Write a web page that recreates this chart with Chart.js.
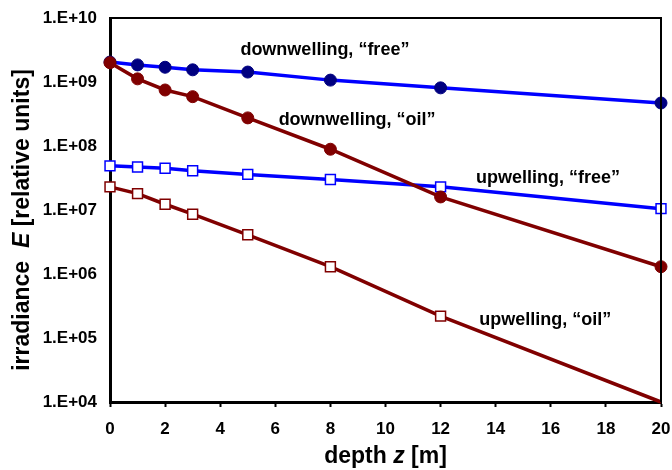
<!DOCTYPE html>
<html>
<head>
<meta charset="utf-8">
<script src="https://cdn.jsdelivr.net/npm/chart.js@4/dist/chart.umd.min.js"></script>
<style>
  html, body { margin: 0; padding: 0; background: #fff; }
  #wrap { width: 672px; height: 470px; }
</style>
</head>
<body>
<div id="wrap"><canvas id="irradiance-chart"></canvas></div>
<script>
const depths = [0, 1, 2, 3, 5, 8, 12, 20];
const downFree = [2.05e9, 1.85e9, 1.7e9, 1.55e9, 1.43e9, 1.07e9, 8.1e8, 4.7e8];
const downOil = [2.0e9, 1.12e9, 7.5e8, 5.9e8, 2.75e8, 8.9e7, 1.6e7, 1.3e6];
const upFree = [4.9e7, 4.7e7, 4.5e7, 4.1e7, 3.6e7, 3.0e7, 2.3e7, 1.05e7];
const upOil = [2.3e7, 1.8e7, 1.23e7, 8.6e6, 4.1e6, 1.3e6, 2.2e5, 1.0e4];
const yTicks = [1e4, 1e5, 1e6, 1e7, 1e8, 1e9, 1e10];

const FONT = '"Liberation Sans", Arial, sans-serif';
const BLUE = '#0000ff';
const NAVY = '#000080';
const RED = '#800000';

function pts(ys) {
  return depths.map((x, i) => ({ x: x, y: ys[i] }));
}

// text labels next to the curves, in data coordinates
const notes = [
  { text: 'downwelling, \u201cfree\u201d', x: 7.8, y: Math.pow(10, 9.5) },
  { text: 'downwelling, \u201coil\u201d', x: 8.97, y: Math.pow(10, 8.41) },
  { text: 'upwelling, \u201cfree\u201d', x: 15.9, y: Math.pow(10, 7.5) },
  { text: 'upwelling, \u201coil\u201d', x: 15.8, y: Math.pow(10, 5.28) },
];

const decorPlugin = {
  id: 'decor',
  afterDraw(chart) {
    const { ctx, chartArea: a, scales } = chart;
    ctx.save();
    // top and right frame
    ctx.strokeStyle = '#000';
    ctx.lineWidth = 2;
    ctx.beginPath();
    ctx.moveTo(a.left, a.top);
    ctx.lineTo(a.right, a.top);
    ctx.lineTo(a.right, a.bottom);
    ctx.stroke();

    // curve labels
    ctx.fillStyle = '#000';
    ctx.font = 'bold 18px ' + FONT;
    ctx.textAlign = 'center';
    ctx.textBaseline = 'middle';
    notes.forEach(n => {
      ctx.fillText(n.text, scales.x.getPixelForValue(n.x), scales.y.getPixelForValue(n.y));
    });

    // axis titles with italic symbols
    function mixed(parts, cx, cy, rot) {
      ctx.save();
      ctx.translate(cx, cy);
      ctx.rotate(rot);
      ctx.textAlign = 'left';
      ctx.textBaseline = 'middle';
      let total = 0;
      parts.forEach(p => { ctx.font = p[1] + ' 23px ' + FONT; total += ctx.measureText(p[0]).width; });
      let x = -total / 2;
      parts.forEach(p => {
        ctx.font = p[1] + ' 23px ' + FONT;
        ctx.fillText(p[0], x, 0);
        x += ctx.measureText(p[0]).width;
      });
      ctx.restore();
    }
    mixed([['depth ', 'bold'], ['z', 'italic bold'], [' [m]', 'bold']],
      (a.left + a.right) / 2, 457, 0);
    mixed([['irradiance  ', 'bold'], ['E', 'italic bold'], [' [relative units]', 'bold']],
      23, 220, -Math.PI / 2);
    ctx.restore();
  }
};

const config = {
  type: 'line',
  data: {
    datasets: [
      {
        label: 'upwelling, "oil"',
        data: pts(upOil),
        borderColor: RED,
        backgroundColor: '#fff',
        borderWidth: 3.5,
        pointStyle: 'rect',
        pointRadius: [7, 7, 7, 7, 7, 7, 7, 0],
        pointBorderWidth: 1.5,
        pointBorderColor: RED,
        pointBackgroundColor: '#fff',
      },
      {
        label: 'downwelling, "oil"',
        data: pts(downOil),
        borderColor: RED,
        backgroundColor: RED,
        borderWidth: 3.5,
        pointRadius: 6,
        pointBackgroundColor: RED,
        pointBorderColor: RED,
        pointBorderWidth: 1,
      },
      {
        label: 'upwelling, "free"',
        data: pts(upFree),
        borderColor: BLUE,
        backgroundColor: '#fff',
        borderWidth: 3.5,
        pointStyle: 'rect',
        pointRadius: 7,
        pointBorderWidth: 1.5,
        pointBorderColor: BLUE,
        pointBackgroundColor: '#fff',
      },
      {
        label: 'downwelling, "free"',
        data: pts(downFree),
        borderColor: BLUE,
        backgroundColor: NAVY,
        borderWidth: 3.5,
        pointRadius: 6,
        pointBackgroundColor: NAVY,
        pointBorderColor: NAVY,
        pointBorderWidth: 1,
      },
    ],
  },
  options: {
    responsive: true,
    maintainAspectRatio: false,
    animation: false,
    clip: false,
    layout: { padding: { top: 18, right: 11, left: 0, bottom: 0 } },
    plugins: {
      legend: { display: false },
      tooltip: { enabled: false },
    },
    scales: {
      x: {
        type: 'linear',
        min: 0,
        max: 20,
        afterFit(s) { s.height = 68; s.paddingLeft = 0; s.paddingRight = 0; },
        ticks: {
          stepSize: 2,
          color: '#000',
          padding: 12,
          font: { family: FONT, size: 17, weight: 'bold' },
        },
        grid: { drawOnChartArea: false, tickLength: 5, tickWidth: 2, color: '#000' },
        border: { color: '#000', width: 3 },
      },
      y: {
        type: 'logarithmic',
        min: 1e4,
        max: 1e10,
        afterFit(s) { s.width = 110; s.paddingTop = 0; s.paddingBottom = 0; },
        afterBuildTicks(s) { s.ticks = yTicks.map(v => ({ value: v })); },
        ticks: {
          color: '#000',
          padding: 13,
          font: { family: FONT, size: 17, weight: 'bold' },
          callback(v) {
            const e = Math.round(Math.log10(v));
            return '1.E+' + (e < 10 ? '0' + e : e);
          },
        },
        grid: { drawOnChartArea: false, drawTicks: false, color: '#000' },
        border: { color: '#000', width: 3 },
      },
    },
  },
  plugins: [decorPlugin],
};

let chart = new Chart(document.querySelector('#irradiance-chart'), config);
</script>
</body>
</html>
